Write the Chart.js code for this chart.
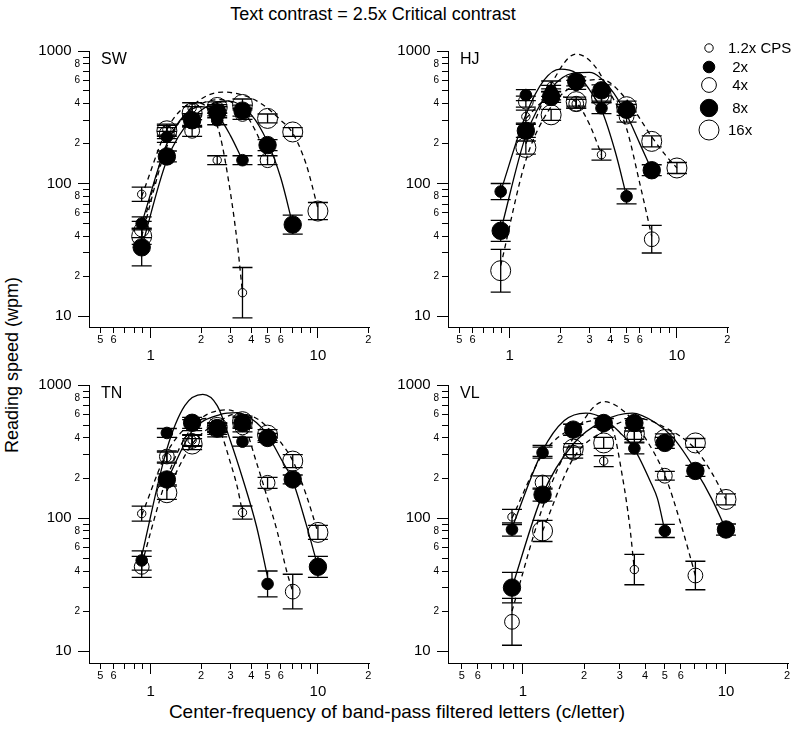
<!DOCTYPE html>
<html lang="en">
<head>
<meta charset="utf-8">
<title>Reading speed vs band-pass center frequency</title>
<script src="https://cdn.jsdelivr.net/npm/chart.js@4.4.1/dist/chart.umd.min.js"></script>
<style>
  html, body { margin: 0; padding: 0; background: #fff; }
  #page { position: relative; width: 800px; height: 731px; overflow: hidden;
          font-family: "Liberation Sans", Arial, Helvetica, sans-serif; color: #000; }
  #page canvas { position: absolute; }
  .caption { position: absolute; font-size: 18px; line-height: 20px; text-align: center; white-space: nowrap; }
  #main-title { left: 0; top: 4px; width: 746px; }
  #x-title { left: 0; top: 702px; width: 794px; font-size: 19px; }
  #y-title { left: -138px; top: 355px; width: 300px; transform: rotate(-90deg); }
</style>
</head>
<body>
<div id="page">
  <div id="main-title" class="caption">Text contrast = 2.5x Critical contrast</div>
  <div id="y-title" class="caption">Reading speed (wpm)</div>
  <div id="x-title" class="caption">Center-frequency of band-pass filtered letters (c/letter)</div>
  <canvas id="chart-sw" width="352" height="333" style="left:29px; top:39px;"></canvas>
  <canvas id="chart-hj" width="412" height="333" style="left:388px; top:39px;"></canvas>
  <canvas id="chart-tn" width="352" height="335" style="left:29px; top:373px;"></canvas>
  <canvas id="chart-vl" width="412" height="335" style="left:388px; top:373px;"></canvas>
</div>
<script>
// Band-pass center frequencies (c/letter), half-octave steps
const freqs = [0.884, 1.25, 1.77, 2.5, 3.54, 5, 7.07, 10];

// Axis ticks
const xTickValues = [0.5, 0.6, 0.7, 0.8, 0.9, 1, 2, 3, 4, 5, 6, 7, 8, 9, 10, 20];
const xTickLabels = ['5', '6', '', '', '', '1', '2', '3', '4', '5', '6', '', '', '', '10', '2'];
const yTickValues = [10, 20, 30, 40, 50, 60, 70, 80, 90, 100, 200, 300, 400, 500, 600, 700, 800, 900, 1000];
const yTickLabels = ['10', '2', '', '4', '', '6', '', '8', '', '100', '2', '', '4', '', '6', '', '8', '', '1000'];
const majorTicks = [1, 10, 100, 1000];

// Reading speed (wpm) per condition, aligned with freqs (null = not tested)
// SW
const swCps12 = [83, 255, 370, 150, 15, null, null, null];
const swCps2 = [50, 225, 295, 300, 150, null, null, null];
const swCps4 = [45, 240, 250, 365, 335, 150, null, null];
const swCps8 = [33, 160, 300, 345, 355, 195, 49, null];
const swCps16 = [40, 250, 340, 375, 395, 310, 245, 62];
// HJ
const hjCps12 = [null, 320, 540, 400, 165, null, null, null];
const hjCps2 = [87, 465, 500, 555, 370, 80, null, null];
const hjCps4 = [null, 415, 470, 400, 460, 320, 38, null];
const hjCps8 = [44, 250, 450, 590, 505, 360, 126, null];
const hjCps16 = [22, 187, 330, 415, 450, 380, 208, 131];
// TN
const tnCps12 = [108, 285, 385, 440, 110, null, null, null];
const tnCps2 = [48, 436, 500, 460, 375, 32, null, null];
const tnCps4 = [43, 290, 380, 480, 480, 184, 28, null];
const tnCps8 = [null, 195, 520, 475, 520, 400, 195, 43];
const tnCps16 = [null, 155, 360, 480, 530, 420, 268, 78];
// VL
const vlCps12 = [102, 320, null, 268, 41, null, null, null];
const vlCps2 = [82, 310, 460, 520, 334, 80, null, null];
const vlCps4 = [16.6, 185, 310, null, 410, 208, 37, null];
const vlCps8 = [30, 150, 462, 518, 518, 367, 226, 82];
const vlCps16 = [null, 80, 330, 367, 430, 390, 367, 138];

// Error bars: multiplicative half-range (bar spans value/err .. value*err)
const swErr12 = [1.13, 1.1, 1.1, 1.08, 1.55];
const swErr2 = [1.12, 1.1, 1.1, 1.08, 1.08];
const swErr4 = [1.15, 1.1, 1.1, 1.08, 1.1, 1.08];
const swErr8 = [1.38, 1.1, 1.12, 1.1, 1.1, 1.1, 1.18];
const swErr16 = [1.15, 1.1, 1.12, 1.1, 1.1, 1.08, 1.08, 1.16];
const hjErr12 = [null, 1.12, 1.1, 1.08, 1.1];
const hjErr2 = [1.15, 1.1, 1.1, 1.08, 1.1, 1.14];
const hjErr4 = [null, 1.1, 1.1, 1.08, 1.1, 1.1, 1.27];
const hjErr8 = [1.2, 1.12, 1.1, 1.08, 1.1, 1.1, 1.1];
const hjErr16 = [1.45, 1.12, 1.1, 1.08, 1.1, 1.1, 1.1, 1.1];
const tnErr12 = [1.14, 1.1, 1.1, 1.08, 1.12];
const tnErr2 = [1.18, 1.08, 1.1, 1.08, 1.08, 1.25];
const tnErr4 = [1.2, 1.1, 1.1, 1.08, 1.08, 1.1, 1.35];
const tnErr8 = [null, 1.1, 1.1, 1.08, 1.1, 1.08, 1.08, 1.2];
const tnErr16 = [null, 1.12, 1.1, 1.08, 1.1, 1.1, 1.12, 1.13];
const vlErr12 = [1.14, 1.1, null, 1.1, 1.3];
const vlErr2 = [1.12, 1.1, 1.1, 1.08, 1.1, 1.12];
const vlErr4 = [1.5, 1.12, 1.1, null, 1.1, 1.08, 1.28];
const vlErr8 = [1.3, 1.12, 1.1, 1.08, 1.08, 1.1, 1.1, 1.1];
const vlErr16 = [null, 1.2, 1.1, 1.1, 1.1, 1.1, 1.08, 1.1];

// Fitted curves as [c/letter, wpm]
const swFit12 = [[0.884, 80], [1.25, 255], [1.6, 380], [1.95, 405], [2.3, 340], [2.6, 230], [3.0, 85], [3.3, 35], [3.54, 15]];
const swFit2 = [[0.884, 50], [1.25, 200], [1.6, 330], [2.0, 380], [2.5, 330], [3.0, 230], [3.54, 150]];
const swFit4 = [[0.884, 45], [1.25, 200], [1.77, 360], [2.6, 430], [3.54, 355], [4.3, 240], [5, 150]];
const swFit8 = [[0.884, 33], [1.25, 150], [1.77, 310], [2.9, 420], [4, 330], [5, 205], [6, 110], [7.07, 49]];
const swFit16 = [[0.884, 40], [1.25, 190], [1.77, 380], [2.7, 490], [4, 440], [5, 370], [6, 300], [7.07, 240], [8.5, 140], [10, 65]];

const hjFit12 = [[1.25, 310], [1.6, 420], [2.0, 450], [2.5, 410], [3.0, 280], [3.54, 165]];
const hjFit2 = [[0.884, 87], [1.25, 330], [1.6, 600], [2.0, 730], [2.5, 680], [3.0, 510], [3.54, 360], [4.3, 170], [5, 80]];
const hjFit4 = [[1.25, 200], [1.77, 560], [2.5, 950], [3.2, 780], [4, 480], [5, 260], [6, 100], [7.07, 40]];
const hjFit8 = [[0.884, 44], [1.25, 230], [1.77, 520], [2.4, 680], [3.0, 690], [4, 520], [5, 330], [6, 200], [7.07, 126]];
const hjFit16 = [[0.884, 24], [1.25, 150], [1.77, 380], [2.5, 560], [3.54, 610], [5, 430], [7.07, 225], [8.5, 165], [10, 131]];

const tnFit12 = [[0.884, 105], [1.25, 310], [1.77, 520], [2.2, 560], [2.6, 450], [3.0, 260], [3.3, 170], [3.54, 110]];
const tnFit2 = [[0.884, 52], [1.25, 330], [1.6, 700], [2.05, 850], [2.5, 700], [3.0, 380], [3.54, 200], [4.3, 86], [5, 36]];
const tnFit4 = [[0.884, 45], [1.25, 200], [1.77, 480], [2.85, 650], [3.54, 540], [4.3, 260], [5, 140], [5.7, 80], [6.5, 40], [7.07, 28]];
const tnFit8 = [[1.25, 190], [1.77, 450], [2.6, 600], [3.3, 620], [4.3, 520], [5, 420], [6, 280], [7.07, 190], [8.5, 90], [10, 43]];
const tnFit16 = [[1.25, 160], [1.77, 360], [2.5, 520], [3.3, 610], [4.3, 560], [5, 480], [6, 370], [7.07, 270], [8.5, 150], [10, 78]];

const vlFit12 = [[0.884, 100], [1.25, 300], [1.77, 480], [2.3, 540], [2.75, 470], [3.1, 200], [3.35, 90], [3.54, 41]];
const vlFit2 = [[0.884, 84], [1.25, 320], [1.6, 540], [2.04, 615], [2.5, 560], [3.0, 440], [3.54, 330], [4.3, 180], [4.6, 140], [5, 80]];
const vlFit4 = [[0.884, 20], [1.25, 120], [1.77, 400], [2.5, 750], [3.2, 620], [4, 400], [5, 210], [6, 90], [7.07, 37]];
const vlFit8 = [[0.884, 30], [1.25, 150], [1.77, 360], [2.5, 540], [3.46, 615], [4.5, 520], [5.5, 400], [7.07, 230], [8.5, 140], [10, 82]];
const vlFit16 = [[1.25, 80], [1.77, 280], [2.5, 450], [3.7, 560], [5, 480], [7.07, 330], [8.5, 220], [10, 138]];

// Marker / line style per condition (legend order)
const condStyles = [
    { label: '1.2x CPS', radius: 4.2, filled: false, dash: [5, 4], legendDy: -3 },
    { label: ' 2x', radius: 5.8, filled: true, dash: [], legendDy: 16 },
    { label: ' 4x', radius: 7.4, filled: false, dash: [5, 4], legendDy: 34 },
    { label: ' 8x', radius: 8.7, filled: true, dash: [], legendDy: 57 },
    { label: '16x', radius: 10, filled: false, dash: [5, 4], legendDy: 79 }
];

const sansFont = '"Liberation Sans", Arial, Helvetica, sans-serif';

function toPoints(vals) {
    const pts = [];
    vals.forEach((v, i) => {
        if (v !== null) pts.push({ x: freqs[i], y: v });
    });
    return pts;
}

function alignPx(p) {
    return Math.round(p - 0.5) + 0.5;
}

function makePanel(canvasId, name, vals, errs, fits, yMin, withLegend) {
    const ctx = document.getElementById(canvasId).getContext('2d');
    const datasets = [];

    // Data points (order 0 -> drawn above the curves)
    vals.forEach((v, k) => {
        const st = condStyles[k];
        datasets.push({
            data: toPoints(v),
            showLine: false,
            pointRadius: st.radius,
            pointBackgroundColor: st.filled ? '#000' : 'rgba(0,0,0,0)',
            pointBorderColor: '#000',
            pointBorderWidth: 1,
            order: 0
        });
    });

    // Fitted curves
    fits.forEach((f, k) => {
        datasets.push({
            data: f.map(p => ({ x: p[0], y: p[1] })),
            showLine: true,
            pointRadius: 0,
            borderColor: '#000',
            borderWidth: 1.3,
            borderDash: condStyles[k].dash,
            cubicInterpolationMode: 'monotone',
            fill: false,
            order: 1
        });
    });

    const extras = {
        id: 'extras',
        afterDatasetsDraw(chart) {
            const c = chart.ctx;
            const xs = chart.scales.x;
            const ys = chart.scales.y;
            c.save();
            c.strokeStyle = '#000';
            c.lineWidth = 1.3;
            vals.forEach((v, k) => {
                v.forEach((y, i) => {
                    const e = errs[k][i];
                    if (y === null || !e) return;
                    const px = xs.getPixelForValue(freqs[i]);
                    const top = ys.getPixelForValue(y * e);
                    const bot = ys.getPixelForValue(y / e);
                    c.beginPath();
                    c.moveTo(px, top); c.lineTo(px, bot);
                    c.moveTo(px - 10, top); c.lineTo(px + 10, top);
                    c.moveTo(px - 10, bot); c.lineTo(px + 10, bot);
                    c.stroke();
                });
            });
            c.restore();
        },
        afterDraw(chart) {
            const c = chart.ctx;
            const area = chart.chartArea;
            const xs = chart.scales.x;
            const ys = chart.scales.y;
            c.save();
            // longer ticks at the decades
            c.strokeStyle = '#000';
            c.lineWidth = 1;
            c.beginPath();
            majorTicks.forEach(v => {
                if (v >= xs.min && v <= xs.max) {
                    const px = alignPx(xs.getPixelForValue(v));
                    c.moveTo(px, area.bottom);
                    c.lineTo(px, area.bottom + 11);
                }
                if (v >= ys.min && v <= ys.max) {
                    const py = alignPx(ys.getPixelForValue(v));
                    c.moveTo(area.left, py);
                    c.lineTo(area.left - 11, py);
                }
            });
            c.stroke();

            // observer initials
            c.fillStyle = '#000';
            c.font = '16px ' + sansFont;
            c.textAlign = 'left';
            c.textBaseline = 'alphabetic';
            c.fillText(name, area.left + 12, area.top + 13);

            // legend
            if (withLegend) {
                c.font = '15px ' + sansFont;
                c.textBaseline = 'middle';
                condStyles.forEach(st => {
                    const cy = area.top + st.legendDy;
                    c.beginPath();
                    c.arc(area.right - 19, cy, st.radius, 0, Math.PI * 2);
                    if (st.filled) c.fill();
                    c.stroke();
                    c.fillText(st.label, area.right, cy + 1);
                });
            }
            c.restore();
        }
    };

    return new Chart(ctx, {
        type: 'scatter',
        data: { datasets },
        options: {
            responsive: false,
            animation: false,
            events: [],
            layout: { padding: { left: 0, top: 10, right: withLegend ? 72 : 12, bottom: 0 } },
            plugins: {
                legend: { display: false },
                tooltip: { enabled: false }
            },
            scales: {
                x: {
                    type: 'logarithmic',
                    bounds: 'data',
                    min: 0.428,
                    max: 20.2,
                    afterBuildTicks: s => {
                        s.ticks = xTickValues.map(v => ({ value: v }));
                    },
                    afterFit: s => { s.height = 45; },
                    grid: { display: true, drawOnChartArea: false, drawTicks: true, tickLength: 6, color: '#000', lineWidth: 1 },
                    border: { display: true, color: '#000', width: 1 },
                    ticks: {
                        autoSkip: false,
                        maxRotation: 0,
                        minRotation: 0,
                        padding: 0,
                        color: '#000',
                        font: c => majorTicks.includes(c.tick && c.tick.value)
                            ? { family: sansFont, size: 15, lineHeight: 1.0 }
                            : { family: sansFont, size: 11, lineHeight: 1.2 },
                        callback: (value, index) => {
                            const label = xTickLabels[index];
                            return majorTicks.includes(value) ? ['', label] : label;
                        }
                    }
                },
                y: {
                    type: 'logarithmic',
                    bounds: 'data',
                    min: yMin,
                    max: 1000,
                    afterBuildTicks: s => {
                        s.ticks = yTickValues.map(v => ({ value: v }));
                    },
                    afterFit: s => { s.width = 60; },
                    grid: { display: true, drawOnChartArea: false, drawTicks: true, tickLength: 6, color: '#000', lineWidth: 1 },
                    border: { display: true, color: '#000', width: 1 },
                    ticks: {
                        autoSkip: false,
                        padding: 3,
                        color: '#000',
                        font: c => majorTicks.includes(c.tick && c.tick.value)
                            ? { family: sansFont, size: 15 }
                            : { family: sansFont, size: 10 },
                        callback: (value, index) => {
                            const label = yTickLabels[index];
                            return majorTicks.includes(value) ? label + '  ' : label;
                        }
                    }
                }
            }
        },
        plugins: [extras]
    });
}

makePanel('chart-sw', 'SW',
    [swCps12, swCps2, swCps4, swCps8, swCps16],
    [swErr12, swErr2, swErr4, swErr8, swErr16],
    [swFit12, swFit2, swFit4, swFit8, swFit16], 8.27, false);
makePanel('chart-hj', 'HJ',
    [hjCps12, hjCps2, hjCps4, hjCps8, hjCps16],
    [hjErr12, hjErr2, hjErr4, hjErr8, hjErr16],
    [hjFit12, hjFit2, hjFit4, hjFit8, hjFit16], 8.27, true);
makePanel('chart-tn', 'TN',
    [tnCps12, tnCps2, tnCps4, tnCps8, tnCps16],
    [tnErr12, tnErr2, tnErr4, tnErr8, tnErr16],
    [tnFit12, tnFit2, tnFit4, tnFit8, tnFit16], 8.14, false);
makePanel('chart-vl', 'VL',
    [vlCps12, vlCps2, vlCps4, vlCps8, vlCps16],
    [vlErr12, vlErr2, vlErr4, vlErr8, vlErr16],
    [vlFit12, vlFit2, vlFit4, vlFit8, vlFit16], 8.14, false);
</script>
</body>
</html>
